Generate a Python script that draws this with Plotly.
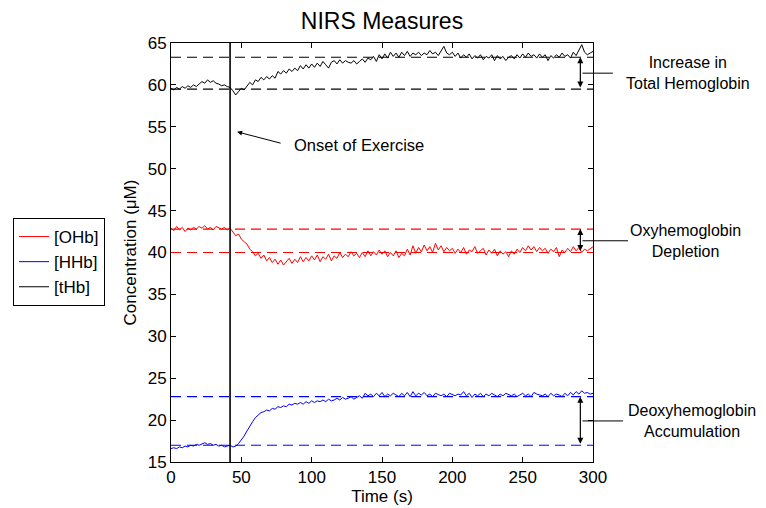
import numpy as np
import plotly.graph_objects as go

THB = [
    59.6, 59.4, 59.7, 59.5, 59.8, 59.6, 59.9, 59.7, 60.0, 59.8, 60.1, 60.4, 60.2, 60.6, 60.3, 60.5, 60.2, 60.1, 59.9, 60.0, 59.8, 59.7,
    59.3, 58.8, 59.2, 59.6, 59.4, 59.9, 60.3, 60.0, 60.6,
    60.4, 60.9, 60.6, 61.0, 60.7, 61.1, 60.8, 61.6, 61.3, 61.7, 61.4, 61.9, 61.6, 62.0, 61.7, 62.3, 61.9, 62.4, 62.0, 62.5,
    62.1, 62.6, 62.2, 62.8, 62.4, 62.0, 62.7, 62.9, 62.5, 63.0, 62.6, 62.9, 62.7, 62.6, 62.9, 62.5, 62.8, 63.1, 62.7, 63.2,
    63.0, 63.4, 62.8, 63.6, 63.1, 63.7, 63.2, 63.9, 63.4, 63.8,
    63.3, 63.9, 63.5, 64.0, 63.4, 63.8, 63.6, 63.9, 63.5, 63.8,
    63.6, 64.1, 63.7, 63.9, 63.5, 64.0, 64.6, 63.8, 63.6, 63.9,
    63.4, 63.8, 63.2, 63.6, 63.3, 63.7, 63.1, 63.5, 63.2, 63.6,
    63.0, 63.4, 63.2, 63.6, 62.9, 63.5, 63.1, 63.4, 62.9, 63.3,
    63.5, 63.1, 63.6, 63.2, 63.7, 63.3, 63.8, 63.4, 63.6, 63.2,
    63.7, 63.3, 63.6, 62.9, 63.5, 63.2, 63.6, 63.3, 63.8, 63.4,
    63.6, 63.2, 63.9, 63.5, 64.1, 64.8, 63.9, 63.6, 63.8, 64.0,
]
OHB = [
    42.9, 42.6, 43.1, 42.7, 43.0, 42.5, 42.9, 42.7, 43.0, 42.8, 43.1, 42.9, 43.2, 42.8, 43.0, 42.7, 43.1, 42.9, 42.8, 43.0, 42.7, 42.9,
    42.4, 42.0, 42.2, 41.6, 41.3, 41.0, 40.4, 40.1, 39.6,
    39.9, 39.3, 39.7, 39.0, 39.4, 38.8, 39.2, 38.6, 39.1, 38.5, 38.9, 39.3, 38.7, 39.2, 38.8, 39.5, 38.9, 39.4, 39.0, 39.6,
    39.1, 39.7, 38.9, 39.5, 39.2, 39.8, 39.0, 39.6, 39.3, 40.0, 39.4, 39.8, 39.5, 40.1, 39.6, 39.9, 39.4, 40.0, 39.5, 40.2,
    39.6, 40.1, 39.7, 40.3, 39.8, 40.2, 39.5, 40.0, 39.6, 40.2,
    39.4, 39.9, 39.6, 40.4, 39.7, 40.8, 39.9, 40.6, 40.1, 40.9,
    40.2, 40.7, 40.0, 41.1, 40.3, 40.8, 40.1, 40.6, 40.2, 40.5,
    39.9, 40.4, 40.0, 40.6, 39.8, 40.3, 40.1, 40.7, 39.9, 40.2,
    40.5, 39.7, 40.3, 39.9, 40.4, 39.6, 40.2, 39.8, 40.1, 39.5,
    40.2, 39.8, 40.4, 40.0, 40.6, 40.2, 40.8, 40.3, 40.7, 40.1,
    40.6, 40.2, 40.5, 39.9, 40.4, 40.1, 40.6, 39.5, 40.3, 40.0,
    40.5, 40.1, 40.7, 40.2, 40.6, 40.0, 40.4, 40.2, 40.5, 40.7,
]
HHB = [
    16.6, 16.7, 16.6, 16.8, 16.7, 16.9, 16.8, 17.0, 16.9, 17.1, 17.0, 17.2, 17.3, 17.1, 17.2, 17.0, 17.1, 16.9, 17.0, 16.8, 16.9, 17.0,
    16.8, 16.9, 17.2, 17.6, 18.1, 18.7, 19.3, 19.8, 20.3,
    20.6, 20.9, 21.0, 21.2, 21.1, 21.4, 21.3, 21.6, 21.5, 21.7, 21.6, 21.9, 21.8, 22.0, 21.9, 22.1, 21.9, 22.2, 22.0, 22.3,
    22.1, 22.3, 22.2, 22.4, 22.2, 22.5, 22.3, 22.4, 22.6, 22.4, 22.7, 22.5, 22.6, 22.8, 22.5, 22.7, 22.9, 22.6, 23.2, 22.9,
    23.1, 22.8, 23.2, 22.9, 23.3, 22.8, 23.1, 22.9, 23.2, 23.0,
    22.8, 23.2, 22.9, 23.3, 22.8, 23.4, 22.9, 23.2, 23.0, 23.3,
    22.9, 23.1, 22.8, 23.2, 23.0, 22.9, 23.1, 22.8, 23.2, 23.0,
    22.9, 23.1, 23.0, 23.4, 22.9, 23.2, 22.7, 23.1, 22.9, 23.2,
    22.8, 23.1, 22.9, 23.2, 23.0, 22.8, 23.1, 22.9, 23.2, 23.0,
    22.9, 23.1, 22.8, 23.0, 23.2, 22.9, 23.1, 22.8, 23.3, 23.1,
    23.0, 22.9, 23.1, 22.8, 23.2, 22.9, 23.1, 23.0, 22.8, 23.2,
    22.9, 23.3, 23.0, 23.4, 23.1, 23.5, 23.2, 23.3, 23.1, 23.2,
]

ONSET_T = 42
ARROW_T = 291
# (low level, high level, colour, label)
LEVELS = [
    (59.5, 63.3, "black", "Increase in<br>Total Hemoglobin"),
    (40.0, 42.8, "red", "Oxyhemoglobin<br>Depletion"),
    (17.0, 22.8, "blue", "Deoxyhemoglobin<br>Accumulation"),
]
LINE_END = [1.047, 1.083, 1.071]
TEXT_X = [1.225, 1.22, 1.235]

FONT = "Liberation Sans, Arial, Helvetica, sans-serif"

fig = go.Figure()
series = [("[OHb]", OHB, "#ff0000"), ("[HHb]", HHB, "#0000ff"), ("[tHb]", THB, "#000000")]
for name, vals, color in series:
    t = np.linspace(0, 300, len(vals))
    fig.add_trace(go.Scatter(x=t, y=vals, mode="lines", name=name,
                             line={"width": 1, "color": color}))

for (lo, hi, color, label), x_end, x_txt in zip(LEVELS, LINE_END, TEXT_X):
    for lvl in (lo, hi):
        fig.add_shape(type="line", xref="x", yref="y", x0=0, x1=300, y0=lvl, y1=lvl,
                      line={"color": color, "width": 1.2, "dash": "10px,6px"})
    fig.add_annotation(x=ARROW_T, y=hi, ax=ARROW_T, ay=lo, xref="x", yref="y",
                       axref="x", ayref="y", text="", showarrow=True,
                       arrowhead=2, arrowside="end+start", arrowsize=1,
                       arrowwidth=1.2, arrowcolor="black")
    mid = (lo + hi) / 2
    fig.add_shape(type="line", xref="paper", yref="y", x0=0.975, x1=x_end,
                  y0=mid, y1=mid, line={"color": "black", "width": 1})
    fig.add_annotation(x=x_txt, y=mid, xref="paper", yref="y", text=label,
                       showarrow=False, xanchor="center", yanchor="middle",
                       font={"size": 16, "color": "black"})

fig.add_shape(type="line", xref="x", yref="y", x0=ONSET_T, x1=ONSET_T, y0=15, y1=65,
              line={"color": "black", "width": 1.6})
fig.add_annotation(x=47, y=54.4, ax=79, ay=53.0, xref="x", yref="y", axref="x", ayref="y",
                   text="", showarrow=True, arrowhead=2, arrowsize=1, arrowwidth=1,
                   arrowcolor="black")
fig.add_annotation(x=86, y=52.8, xref="x", yref="y", text="Onset of Exercise",
                   showarrow=False, xanchor="left", yanchor="middle",
                   font={"size": 16.5, "color": "black"})

axis_style = dict(showline=True, linecolor="black", linewidth=1, mirror="ticks",
                  ticks="inside", ticklen=5, tickcolor="black", showgrid=False,
                  zeroline=False, tickfont={"size": 17, "color": "black"})

# page body has an 8px margin, so the figure is 8px smaller and shifted
fig.update_layout(
    width=758, height=500,
    paper_bgcolor="white", plot_bgcolor="white",
    margin={"l": 163, "r": 173, "t": 35, "b": 46, "autoexpand": False},
    font={"family": FONT, "color": "black"},
    title={"text": "NIRS Measures", "x": 0.5, "xref": "paper", "xanchor": "center",
           "y": 0.974, "yanchor": "middle", "font": {"size": 23, "color": "black"}},
    showlegend=True,
    legend={"x": 0.0066, "y": 0.58, "xref": "container", "yref": "container",
            "xanchor": "left", "yanchor": "top",
            "bordercolor": "black", "borderwidth": 1, "bgcolor": "white",
            "font": {"size": 17, "color": "black"}, "tracegroupgap": 0},
    xaxis={**axis_style, "range": [0, 300], "tickvals": [0, 50, 100, 150, 200, 250, 300],
           "title": {"text": "Time (s)", "font": {"size": 17}, "standoff": 2}},
    yaxis={**axis_style, "range": [15, 65], "tickvals": list(range(15, 66, 5)),
           "title": {"text": "Concentration (μM)", "font": {"size": 17}, "standoff": 6}},
)

fig.write_html("out.html")
